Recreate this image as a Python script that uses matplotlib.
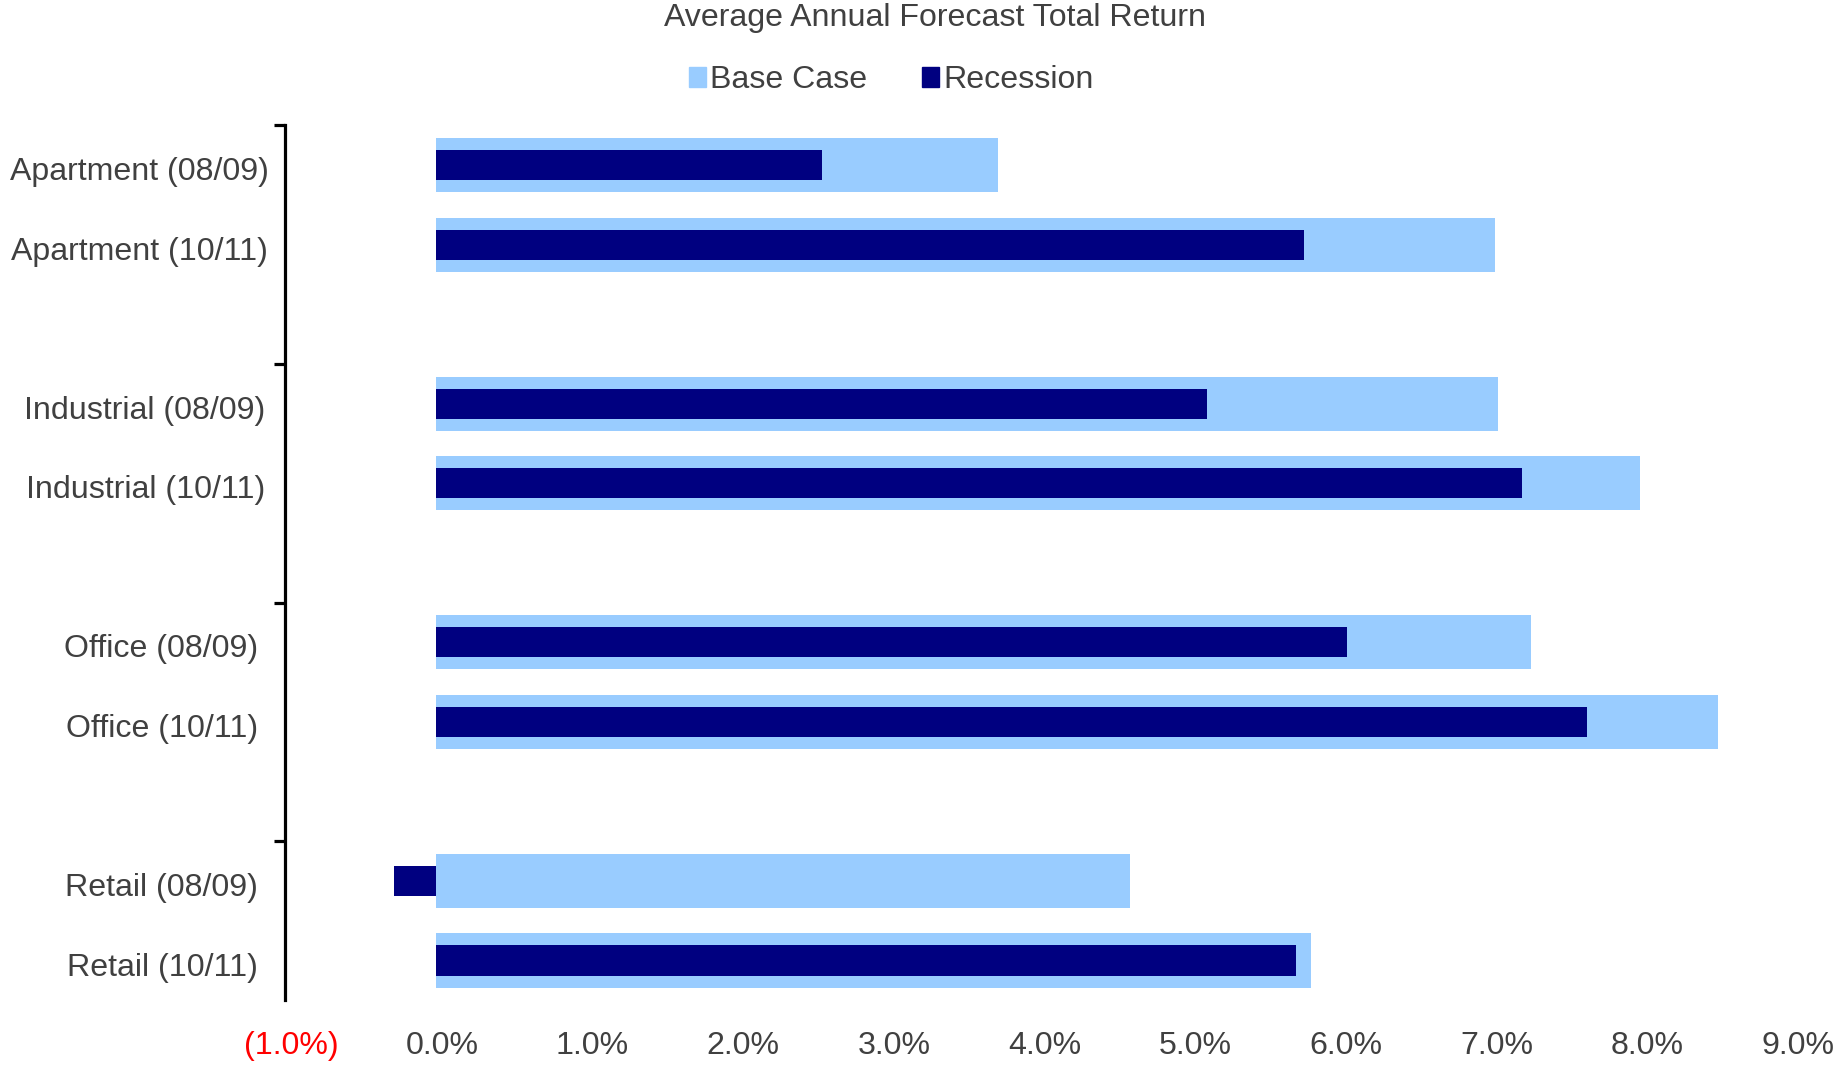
import matplotlib
matplotlib.use("Agg")
from matplotlib import pyplot as plt
from matplotlib.patches import Rectangle
from matplotlib.ticker import FuncFormatter
from matplotlib.transforms import ScaledTranslation

# data (percent)
groups = ["Apartment", "Industrial", "Office", "Retail"]
periods = ["(08/09)", "(10/11)"]
base_case = [3.73, 7.03, 7.05, 7.99, 7.27, 8.51, 4.61, 5.81]
recession = [2.56, 5.76, 5.12, 7.21, 6.05, 7.64, -0.28, 5.71]
x_ticks = [-1, 0, 1, 2, 3, 4, 5, 6, 7, 8, 9]

BASE_COLOR = "#99CCFF"
REC_COLOR = "#000080"
TEXT_COLOR = "#404040"
FS = 23.1

plt.rcParams["font.family"] = ["Liberation Sans", "DejaVu Sans"]

labels = []
pos = []
for g, name in enumerate(groups):
    for k, p in enumerate(periods):
        labels.append(name + " " + p)
        pos.append(3 * g + k)

fig = plt.figure(figsize=(18.45, 10.67), dpi=100)
ax = fig.add_axes([0.1545, 0.0625, 0.8168, 0.820])

ax.barh(pos, base_case, height=0.68, color=BASE_COLOR, zorder=2)
ax.barh(pos, recession, height=0.38, color=REC_COLOR, zorder=3)

ax.set_xlim(-1, 9)
ax.set_ylim(10.5, -0.5)

for s in ["top", "right", "bottom"]:
    ax.spines[s].set_visible(False)
ax.spines["left"].set_linewidth(2.3)
ax.spines["left"].set_color("black")

# group separators as major ticks, labels at category centres
ax.set_yticks([-0.5, 2.5, 5.5, 8.5])
ax.set_yticklabels([])
ax.tick_params(axis="y", which="major", length=8, width=2.3, color="black", direction="out")
ax.set_yticks(pos, minor=True)
ax.set_yticklabels(labels, minor=True, fontsize=FS, color=TEXT_COLOR)
ax.tick_params(axis="y", which="minor", length=0, pad=12)

def pct(v, _):
    if v < 0:
        return "({:.1f}%)".format(-v)
    return "{:.1f}%".format(v)

ax.set_xticks(x_ticks)
ax.xaxis.set_major_formatter(FuncFormatter(pct))
ax.tick_params(axis="x", length=0, pad=22, labelsize=FS, labelcolor=TEXT_COLOR)
for t, v in zip(ax.get_xticklabels(), x_ticks):
    if v < 0:
        t.set_color("red")
    t.set_transform(t.get_transform() + ScaledTranslation(0.06, 0, fig.dpi_scale_trans))

fig.text(0.507, 0.983, "Average Annual Forecast Total Return", ha="center", va="center",
         fontsize=FS, color=TEXT_COLOR)

handles = [Rectangle((0, 0), 1, 1, color=BASE_COLOR), Rectangle((0, 0), 1, 1, color=REC_COLOR)]
leg = fig.legend(handles, ["Base Case", "Recession"], loc="center", bbox_to_anchor=(0.483, 0.925),
                 ncol=2, frameon=False, fontsize=FS, handlelength=0.55, handleheight=0.6,
                 handletextpad=0.12, columnspacing=1.7, borderpad=0)
for t in leg.get_texts():
    t.set_color(TEXT_COLOR)

# category labels sit slightly lower and are not strictly right aligned
fig.canvas.draw()
r = fig.canvas.get_renderer()
ylabels = ax.get_yticklabels(minor=True)
widths = [t.get_window_extent(r).width for t in ylabels]
wmax = max(widths)
for t, w in zip(ylabels, widths):
    dx = -0.16 * (wmax - w) / fig.dpi
    t.set_transform(t.get_transform() + ScaledTranslation(dx, -0.035, fig.dpi_scale_trans))

fig.savefig("out.png", dpi=100)
